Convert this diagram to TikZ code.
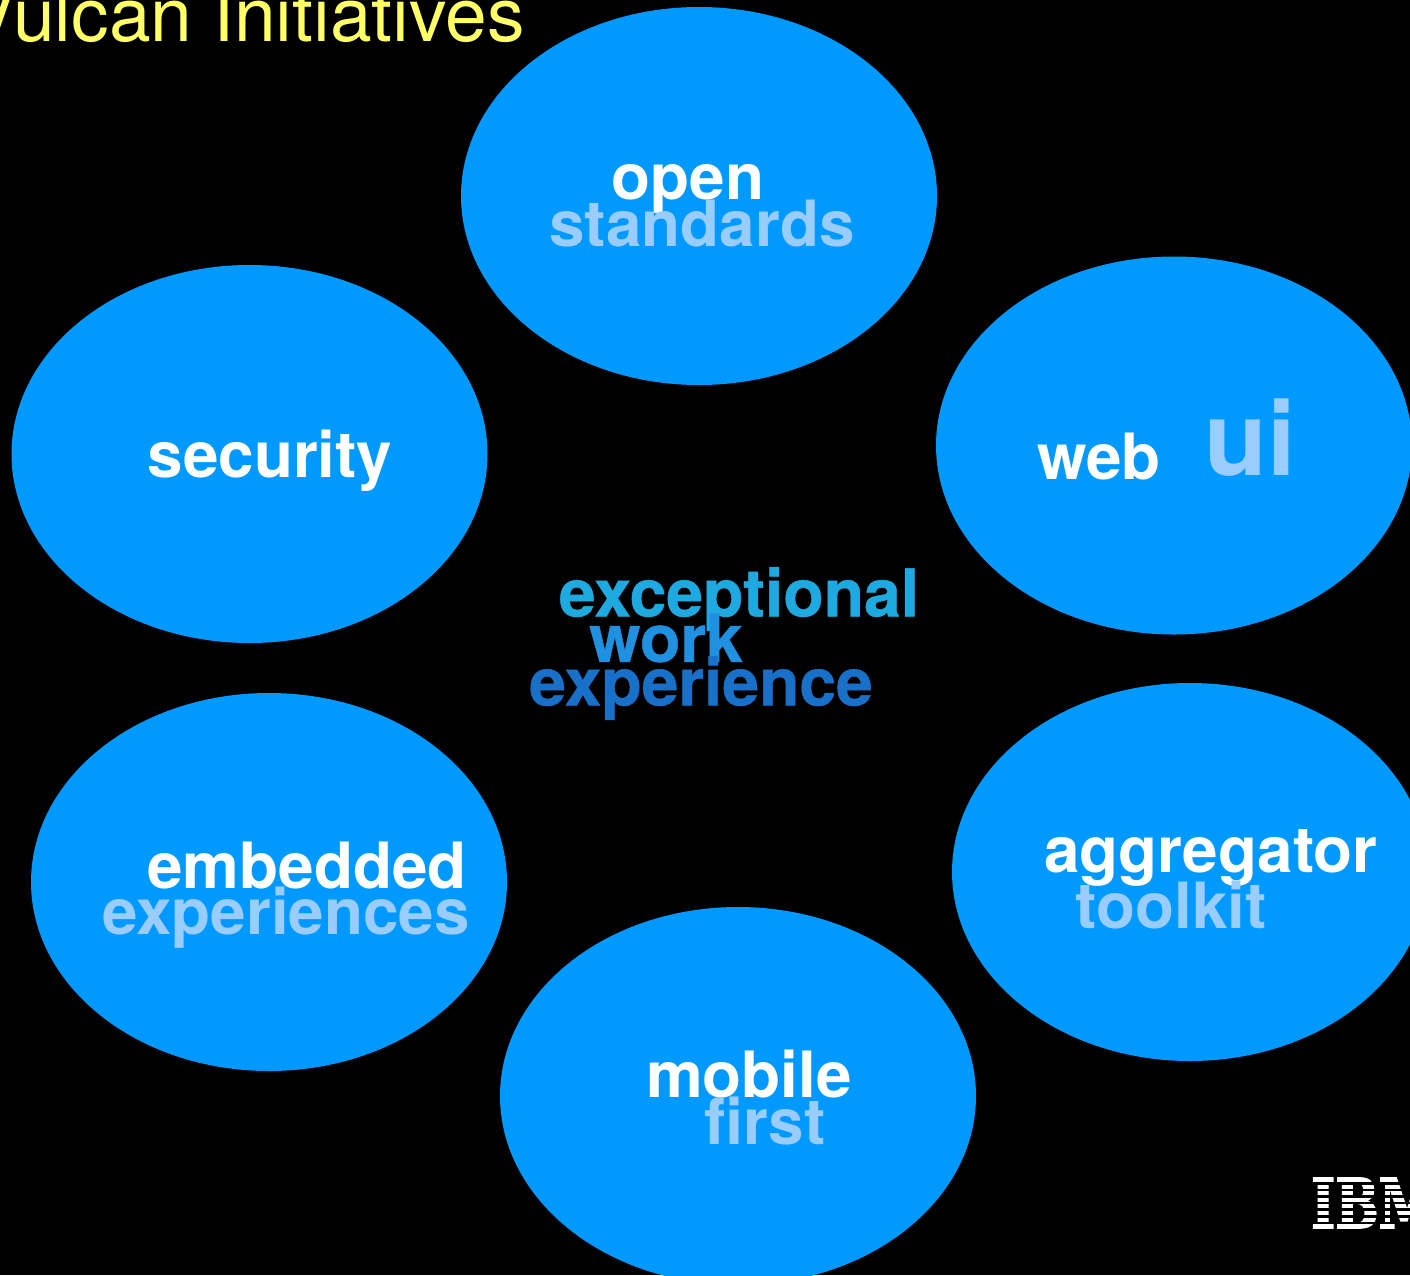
\documentclass[tikz,border=0pt]{standalone}
\usepackage{fontspec}
\setmainfont{TeX Gyre Heros}
\newfontfamily\logofont[BoldFeatures={FakeBold=2.5}]{DejaVu Serif}
\newfontfamily\ctrfont[BoldFeatures={FakeBold=0.7}]{TeX Gyre Heros}
\usetikzlibrary{shapes.geometric}
\definecolor{bub}{HTML}{0099FF}
\definecolor{pale}{HTML}{99CCFF}
\definecolor{ttl}{HTML}{FFFF66}
\definecolor{exa}{HTML}{1EAAE0}
\definecolor{exb}{HTML}{2090E0}
\definecolor{exc}{HTML}{1870C8}
\tikzset{
 x=1pt,y=-1pt,
 bubble/.style={ellipse,fill=bub,minimum width=476pt,minimum height=378pt,inner sep=0pt},
 wa/.style={text=white,font=\fontsize{63.8}{63.8}\selectfont\bfseries,inner sep=0pt},
 wb/.style={text=pale,font=\fontsize{63.8}{63.8}\selectfont\bfseries,inner sep=0pt},
 ctr/.style={font=\ctrfont\bfseries\fontsize{66}{66}\selectfont,inner sep=0pt},
 ttlstyle/.style={text=ttl,font=\fontsize{75}{75}\selectfont,inner sep=0pt,anchor=base west},
 stripe/.style={fill=black},
}
\begin{document}
\begin{tikzpicture}
\useasboundingbox (0,0) rectangle (1410,1275);
\fill[black] (0,0) rectangle (1410,1275);
\begin{scope}
\clip (0,0) rectangle (1410,1275);
\node[ttlstyle] (title) at (-34,41) {Vulcan Initiatives};
\node[bubble] (open) at (699,196) {};
\node[bubble] (sec) at (249.5,454) {};
\node[bubble] (web) at (1174,445.5) {};
\node[bubble] (emb) at (269,882) {};
\node[bubble] (agg) at (1190,872) {};
\node[bubble] (mob) at (738,1096) {};
\node[wa] (t1) at (688,189) {open};
\node[wb] (t2) at (702,224) {standards};
\node[wa] (t3) at (270,461) {security};
\node[wa] (t4) at (1099,457) {web};
\node[wb,font=\fontsize{103}{103}\selectfont\bfseries] (t5) at (1250,438) {ui};
\node[wa] (t6) at (307,866) {embedded};
\node[wb] (t7) at (286,918) {experiences};
\node[wa] (t8) at (1211,858) {aggregator};
\node[wb] (t9) at (1171,905) {toolkit};
\node[wa] (t10) at (749,1074) {mobile};
\node[wb] (t11) at (765,1121) {first};
\node[ctr,text=exa] (c1) at (739,599) {exceptional};
\node[ctr,text=exb] (c2) at (666,638) {work};
\node[ctr,text=exc] (c3) at (701,688) {experience};
\node[text=white,font=\logofont\bfseries\fontsize{68.6}{68.6}\selectfont,inner sep=0pt,anchor=base west,xscale=0.75] (ibm) at (1311,1228) {IBM};
\foreach \y in {1182,1188.6,1195.2,1201.8,1208.4,1215,1221.6}
  \fill[stripe] (1300,\y) rectangle (1410,\y+2.6);
\end{scope}
\end{tikzpicture}
\end{document}
